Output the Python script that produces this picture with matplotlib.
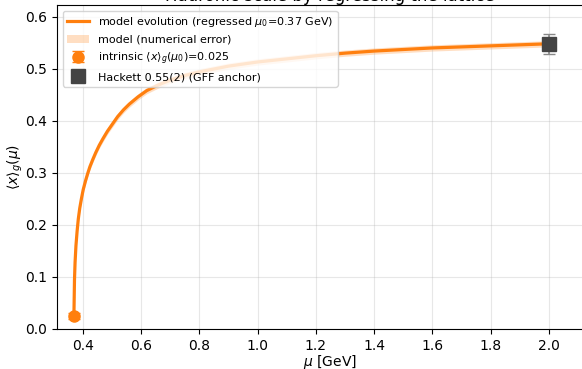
import matplotlib
matplotlib.use('Agg')
import matplotlib.pyplot as plt
import numpy as np

# --- data ---
mu = [0.370, 0.371, 0.372, 0.374, 0.377, 0.381, 0.385, 0.390, 0.396, 0.402,
      0.410, 0.418, 0.425, 0.435, 0.445, 0.457, 0.470, 0.485, 0.500, 0.520,
      0.540, 0.560, 0.590, 0.620, 0.660, 0.700, 0.750, 0.800, 0.900, 1.000,
      1.100, 1.200, 1.300, 1.400, 1.500, 1.600, 1.700, 1.800, 1.900, 2.000]
xg = [0.025, 0.060, 0.095, 0.128, 0.160, 0.188, 0.211, 0.232, 0.251, 0.268,
      0.285, 0.300, 0.312, 0.326, 0.339, 0.353, 0.366, 0.380, 0.392, 0.408,
      0.421, 0.432, 0.446, 0.458, 0.469, 0.478, 0.487, 0.494, 0.505, 0.513,
      0.519, 0.525, 0.530, 0.534, 0.537, 0.540, 0.542, 0.544, 0.546, 0.548]
band_err = 0.006

mu0, xg0, xg0_err = 0.37, 0.025, 0.006
mu_hackett, xg_hackett, xg_hackett_err = 2.0, 0.548, 0.019

mu = np.array(mu)
xg = np.array(xg)

fig = plt.figure(figsize=(5.82, 3.69), dpi=100)
ax = fig.add_axes([57 / 582, 40 / 369, 545 / 582, 324 / 369])

ax.fill_between(mu, xg - band_err, xg + band_err, color='#ff7f0e', alpha=0.25,
                lw=0, label='model (numerical error)')
ax.plot(mu, xg, color='#ff7f0e', lw=2.3, solid_joinstyle='round',
        label=r'model evolution (regressed $\mu_0$=0.37 GeV)')
ax.errorbar([mu0], [xg0], yerr=[xg0_err], fmt='o', color='#ff7f0e', ms=8,
            capsize=4, elinewidth=1.2, label=r'intrinsic $\langle x\rangle_g(\mu_0)$=0.025')
ax.errorbar([mu_hackett], [xg_hackett], yerr=[xg_hackett_err], fmt='s', color='#444444',
            ecolor='#888888', ms=10, capsize=4, elinewidth=1.2,
            label='Hackett 0.55(2) (GFF anchor)')

ax.set_xlim(0.312, 0.312 + 545 / 291.5)
ax.set_ylim(0, 0.6225)
ax.set_xticks(np.arange(0.4, 2.01, 0.2))
ax.spines['right'].set_visible(False)
ax.grid(True, alpha=0.3)
ax.set_xlabel(r'$\mu$ [GeV]', fontsize=10, labelpad=0)
ax.set_ylabel(r'$\langle x\rangle_g(\mu)$', fontsize=10, labelpad=0)
ax.set_title('Hadronic scale by regressing the lattice', fontsize=12, pad=1.5)

h, l = ax.get_legend_handles_labels()
order = [1, 0, 2, 3]
ax.legend([h[i] for i in order], [l[i] for i in order], loc='upper left',
          fontsize=8, framealpha=0.8)

fig.savefig('out.png', dpi=100)
